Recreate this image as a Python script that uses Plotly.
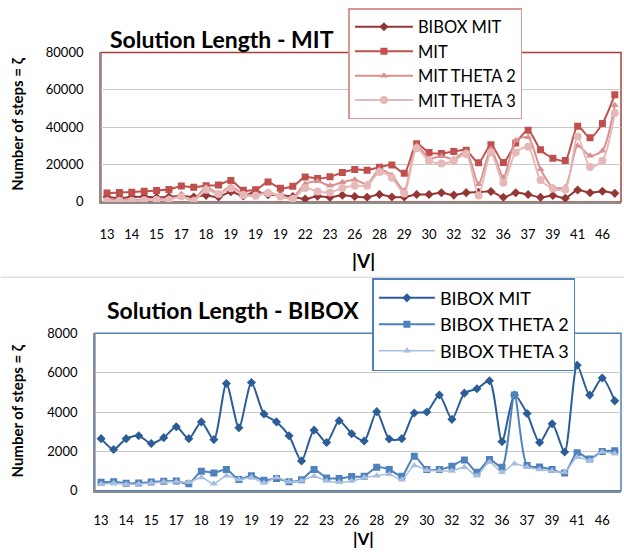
import plotly.graph_objects as go

W, H = 624, 552

# ---------------- data ----------------
tick_labels = ["13", "14", "15", "17", "18", "19", "19", "19", "22", "23", "26",
               "28", "29", "30", "32", "32", "36", "37", "39", "41", "46"]

top_y_ticks = [0, 20000, 40000, 60000, 80000]
bot_y_ticks = [0, 2000, 4000, 6000, 8000]

bibox_mit = [2650, 2100, 2650, 2800, 2400, 2700, 3250, 2650, 3500, 2600, 5450, 3200, 5500, 3900,
             3500, 2800, 1520, 3080, 2450, 3560, 2900, 2530, 4020, 2630, 2650, 3950, 4000, 4870,
             3630, 4960, 5180, 5590, 2500, 4870, 3930, 2450, 3400, 1970, 6380, 4860, 5730, 4570]

bibox_theta2 = [430, 460, 380, 390, 450, 480, 500, 360, 990, 910, 1080, 580, 770, 530,
                630, 460, 560, 1080, 650, 630, 720, 740, 1200, 1080, 740, 1760, 1080, 1080,
                1250, 1570, 940, 1590, 1200, 4870, 1280, 1210, 1080, 910, 1930, 1620, 2000, 2030]

bibox_theta3 = [340, 380, 330, 340, 390, 450, 460, 430, 680, 360, 770, 580, 680, 390,
                670, 460, 510, 740, 500, 430, 500, 670, 770, 840, 560, 1280, 1040, 1030,
                1010, 1200, 770, 1450, 940, 1370, 1200, 1080, 1010, 940, 1710, 1540, 1970, 1880]

mit = [4700, 5100, 5200, 5700, 6100, 6600, 8500, 7800, 8700, 9100, 11400, 6300, 6500, 10600,
       7300, 8400, 13300, 12500, 13400, 15800, 17400, 17000, 18600, 19800, 15400, 31100, 26400, 25900,
       27000, 27600, 20900, 30600, 21100, 31500, 38400, 27900, 23400, 22200, 40500, 34400, 42000, 57300]

mit_theta2 = [900, 1100, 1000, 1300, 1600, 1900, 2600, 1300, 7800, 4500, 8200, 4300, 3800, 5300,
              3000, 2400, 9600, 11000, 8700, 10500, 11800, 9600, 17300, 14200, 6000, 30000, 23300, 24500,
              22900, 27000, 9400, 28300, 13000, 32800, 34600, 17500, 7900, 7900, 30100, 24700, 27400, 51700]

mit_theta3 = [500, 600, 600, 900, 1200, 1000, 3000, 500, 6500, 4200, 7300, 3700, 3300, 4800,
              2900, 1500, 7400, 5600, 5100, 7400, 8700, 8700, 16000, 12900, 4500, 28700, 22000, 20500,
              22000, 25600, 3400, 26500, 10300, 26500, 29500, 11700, 7200, 6700, 35000, 18700, 22000, 47600]

n = len(mit)
xs = list(range(n))
tickvals = list(range(0, n, 2))[:len(tick_labels)]

FONT = "Lato, 'Liberation Sans', sans-serif"

def px_x(p):
    return p / W

def px_y(p):
    # target pixel row in the photographed picture -> paper fraction
    q = (p - 8.7) / 0.968
    return 1 - q / H

# plot-area pixel boxes (left, right, top, bottom)
top_box = (100, 621, 53, 202)
bot_box = (94, 621, 333, 490)

fig = go.Figure()

def add(name, y, color, symbol, size, xa, ya, legend, width=2):
    fig.add_trace(go.Scatter(
        x=xs, y=y, name=name, mode="lines+markers",
        line=dict(color=color, width=width, shape="spline", smoothing=0.7),
        marker=dict(symbol=symbol, size=size, color=color),
        xaxis=xa, yaxis=ya, legend=legend))

add("BIBOX MIT", bibox_mit, "#943634", "diamond", 7, "x", "y", "legend")
add("MIT", mit, "#C0504D", "square", 7, "x", "y", "legend")
add("MIT THETA 2", mit_theta2, "#D9908E", "triangle-up", 7, "x", "y", "legend")
add("MIT THETA 3", mit_theta3, "#E6B9B8", "circle", 8, "x", "y", "legend")

add("BIBOX MIT", bibox_mit, "#2C5D96", "diamond", 7, "x2", "y2", "legend2")
add("BIBOX THETA 2", bibox_theta2, "#4F81BD", "square", 7, "x2", "y2", "legend2")
add("BIBOX THETA 3", bibox_theta3, "#A7BFDE", "triangle-up", 7, "x2", "y2", "legend2", width=1.5)

xcommon = dict(range=[-0.5, n - 0.5], tickmode="array", tickvals=tickvals, ticktext=tick_labels,
               showgrid=False, zeroline=False, showline=True, linecolor="#8C8C8C", linewidth=2,
               ticks="outside", tickcolor="rgba(0,0,0,0)",
               tickfont=dict(family=FONT, size=13, color="#000"), fixedrange=True)
ycommon = dict(showgrid=True, gridcolor="#C8C8C8", gridwidth=1, zeroline=False,
               showline=True, linecolor="#8C8C8C", linewidth=1.5, tickmode="array",
               ticks="outside", ticklen=13, tickcolor="rgba(0,0,0,0)",
               tickfont=dict(family=FONT, size=13, color="#000"), fixedrange=True)

fig.update_layout(
    width=W, height=H, margin=dict(l=0, r=0, t=0, b=0),
    paper_bgcolor="white", plot_bgcolor="white",
    font=dict(family=FONT, color="#000"),
    xaxis=dict(domain=[px_x(top_box[0]), px_x(top_box[1])], anchor="y", ticklen=19, **xcommon),
    yaxis=dict(domain=[px_y(top_box[3]), px_y(top_box[2])], anchor="x", range=[0, 80000],
               tickvals=top_y_ticks, ticktext=[str(v) for v in top_y_ticks], **ycommon),
    xaxis2=dict(domain=[px_x(bot_box[0]), px_x(bot_box[1])], anchor="y2", ticklen=17, **xcommon),
    yaxis2=dict(domain=[px_y(bot_box[3]), px_y(bot_box[2])], anchor="x2", range=[0, 8000],
                tickvals=bot_y_ticks, ticktext=[str(v) for v in bot_y_ticks], **ycommon),
    legend=dict(x=px_x(348), y=1.0, xanchor="left", yanchor="top",
                bgcolor="white", bordercolor="#D99694", borderwidth=1.5,
                font=dict(family=FONT, size=16.5, color="#000"), itemwidth=58,
                tracegroupgap=0),
    legend2=dict(x=px_x(372), y=px_y(278), xanchor="left", yanchor="top",
                 bgcolor="white", bordercolor="#4F81BD", borderwidth=1.5,
                 font=dict(family=FONT, size=18, color="#000"), itemwidth=56,
                 tracegroupgap=0),
    showlegend=True,
)

shapes = []
shapes.append(dict(type="rect", xref="paper", yref="paper", layer="below",
                   x0=px_x(top_box[0]), x1=px_x(top_box[1]), y0=px_y(top_box[3]), y1=px_y(top_box[2]),
                   line=dict(color="#A5403D", width=1.5)))
shapes.append(dict(type="rect", xref="paper", yref="paper", layer="below",
                   x0=px_x(bot_box[0]), x1=px_x(bot_box[1]), y0=px_y(bot_box[3]), y1=px_y(bot_box[2]),
                   line=dict(color="#4F81BD", width=1.5)))
shapes.append(dict(type="line", xref="paper", yref="paper",
                   x0=0, x1=1, y0=px_y(277), y1=px_y(277),
                   line=dict(color="#D0D0D0", width=1)))
fig.update_layout(shapes=shapes)

ann = []
ann.append(dict(text="<b>Solution Length - MIT</b>", x=px_x(107), y=px_y(40), xref="paper", yref="paper",
                xanchor="left", yanchor="middle", showarrow=False,
                font=dict(family=FONT, size=23, color="#000")))
ann.append(dict(text="<b>Solution Length - BIBOX</b>", x=px_x(104), y=px_y(310), xref="paper", yref="paper",
                xanchor="left", yanchor="middle", showarrow=False,
                font=dict(family=FONT, size=23, color="#000")))
for yc in (124, 410):
    ann.append(dict(text="<b>Number of steps = ζ</b>", x=px_x(16), y=px_y(yc), xref="paper", yref="paper",
                    xanchor="center", yanchor="middle", showarrow=False, textangle=-90,
                    font=dict(family=FONT, size=15, color="#000")))
ann.append(dict(text="<b>|V|</b>", x=px_x(363), y=px_y(260), xref="paper", yref="paper",
                xanchor="center", yanchor="middle", showarrow=False,
                font=dict(family=FONT, size=19, color="#000")))
ann.append(dict(text="<b>|V|</b>", x=px_x(363), y=px_y(538), xref="paper", yref="paper",
                xanchor="center", yanchor="middle", showarrow=False,
                font=dict(family=FONT, size=17, color="#000")))
fig.update_layout(annotations=ann)

post = ("document.documentElement.style.margin='0';document.documentElement.style.padding='0';"
        "document.documentElement.style.overflow='hidden';"
        "document.body.style.margin='0';document.body.style.padding='0';"
        "document.body.style.overflow='hidden';")
fig.write_html("out.html", post_script=post, config={"displayModeBar": False})
